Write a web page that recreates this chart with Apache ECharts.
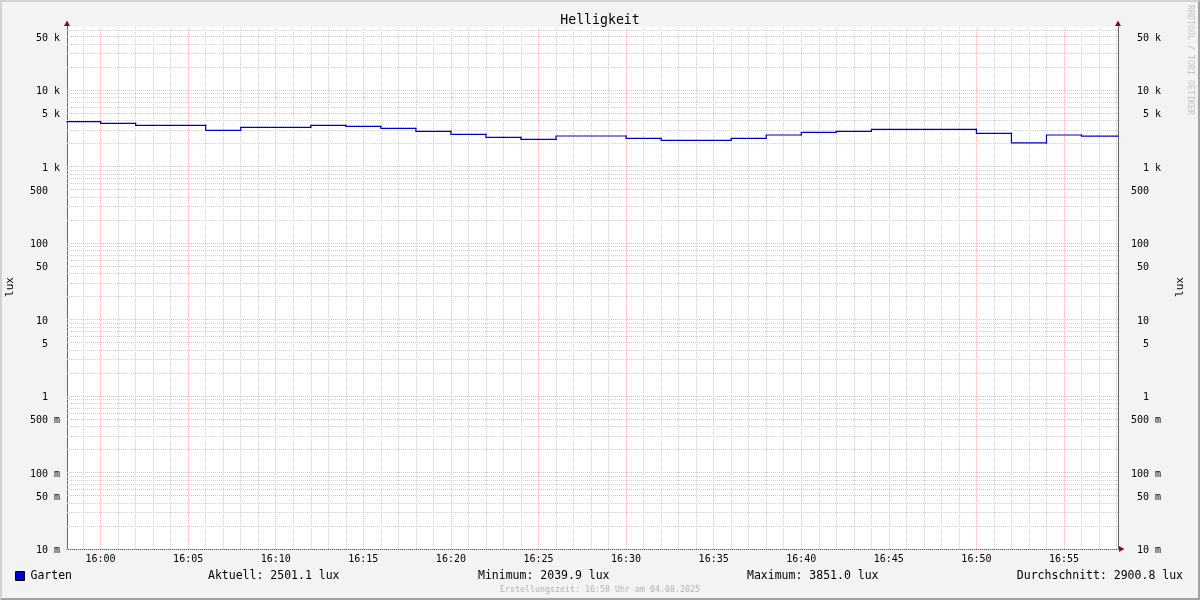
<!DOCTYPE html>
<html><head><meta charset="utf-8">
<script src="https://cdn.jsdelivr.net/npm/echarts@6/dist/echarts.min.js"></script>
<style>
html,body{margin:0;padding:0;background:#f3f3f3;}
#wrap{position:relative;width:1200px;height:600px;}
#chart{width:1200px;height:600px;}
#frame{position:absolute;left:0;top:0;width:1200px;height:600px;box-sizing:border-box;border-style:solid;border-width:2px;border-color:#d2d2d2 #a2a2a2 #a2a2a2 #d2d2d2;pointer-events:none;}
</style></head><body>
<div id="wrap"><div id="chart"></div><div id="frame"></div></div>
<script>
const chartTitle = 'Helligkeit';
const seriesName = 'Garten';
const unitLabel = 'lux';
const xStart = '15:58:05';
const xEnd = '16:58:05';
const stepTimes = ['15:58:05','16:00','16:02','16:06','16:08','16:12','16:14','16:16','16:18','16:20','16:22','16:24','16:26','16:30','16:32','16:36','16:38','16:40','16:42','16:44','16:50','16:52','16:54','16:56','16:58:05'];
const stepValues = [3851.0,3670,3456,2973,3254,3456,3354,3158,2885,2636,2408,2268,2504,2337,2200,2337,2581,2800,2885,3064,2716,2039.9,2581,2501.1,2501.1];
const yMin = 0.01;
const yMax = 66600;
const yTickValues = [0.01,0.05,0.1,0.5,1,5,10,50,100,500,1000,5000,10000,50000];
const yTickLabels = ['10 m','50 m','100 m','500 m','1','5','10','50','100','500','1 k','5 k','10 k','50 k'];
const xTickLabels = ['16:00','16:05','16:10','16:15','16:20','16:25','16:30','16:35','16:40','16:45','16:50','16:55'];
const statNames = ['Aktuell','Minimum','Maximum','Durchschnitt'];
const statValues = [2501.1, 2039.9, 3851.0, 2900.8];
const footerText = 'Erstellungszeit: 16:58 Uhr am 04.08.2025';
const watermarkText = 'RRDTOOL / TOBI OETIKER';

const MONO = 'DejaVu Sans Mono';
const MAJ = '#eeb6b6';
const MIN = '#cfcfcf';
const LINE = '#0000cc';

function ts(s){ const p = s.split(':').map(Number); return Date.UTC(2025,7,4,p[0],p[1],p[2]||0); }
function padLbl(l){ const p = l.split(' '); return p[0].padStart(3,' ') + ' ' + (p[1] || ' '); }

const tMin = ts(xStart), tMax = ts(xEnd);
const mlData = [];
for (let e = -2; e <= 4; e++) {
  [2,3,4,6,7,8,9].forEach(function(m){
    const v = parseFloat((m*Math.pow(10,e)).toPrecision(6));
    if (v < yMax) mlData.push({yAxis: v, lineStyle:{color:MIN}});
  });
}
for (let t = Math.ceil(tMin/60000)*60000; t < tMax; t += 60000) {
  if (new Date(t).getUTCMinutes() % 5 !== 0) mlData.push({xAxis: t, lineStyle:{color:MIN}});
}
yTickValues.forEach(function(v,i){
  mlData.push({yAxis: v, lineStyle:{color:MAJ}, label:{show:true, position:'start', distance:7, align:'right', verticalAlign:'top', lineHeight:3, formatter: padLbl(yTickLabels[i])}});
  mlData.push({yAxis: v, lineStyle:{color:'rgba(255,255,255,0)'}, label:{show:true, position:'end', distance:13, align:'left', verticalAlign:'top', lineHeight:3, formatter: padLbl(yTickLabels[i])}});
});
xTickLabels.forEach(function(l){
  mlData.push({xAxis: ts(l), lineStyle:{color:MAJ}, label:{show:true, position:'start', distance:5, align:'center', verticalAlign:'top', formatter: l}});
});

// one step segment per item: [start time, end time, previous value, value]
const segData = stepTimes.slice(0, -1).map(function(s, i){
  return [ts(s), ts(stepTimes[i+1]), i > 0 ? stepValues[i-1] : stepValues[i], stepValues[i]];
});

const chart = echarts.init(document.getElementById('chart'), null, {renderer:'canvas'});
const statX = [208, 478, 747, 1183];
const graphics = statNames.map(function(n,i){
  return {type:'text', x: statX[i], y: 576, style:{text: n + ': ' + statValues[i].toFixed(1) + ' ' + unitLabel, fontSize:11.5, fontFamily:MONO, fill:'#000', align: i===3 ? 'right' : 'left', verticalAlign:'middle'}};
});
graphics.push(
  {type:'text', x:600, y:589.5, style:{text: footerText, fontSize:8.3, fontFamily:MONO, fill:'#b4b4b4', align:'center', verticalAlign:'middle'}},
  {type:'text', x:1190.5, y:60, rotation:-Math.PI/2, style:{text: watermarkText, fontSize:8.3, fontFamily:MONO, fill:'#c4c4c4', align:'center', verticalAlign:'middle'}},
  {type:'text', x:10, y:287, rotation:Math.PI/2, style:{text: unitLabel, fontSize:11, fontFamily:MONO, fill:'#000', align:'center', verticalAlign:'middle'}},
  {type:'text', x:1180, y:287, rotation:Math.PI/2, style:{text: unitLabel, fontSize:11, fontFamily:MONO, fill:'#000', align:'center', verticalAlign:'middle'}},
  {type:'polygon', shape:{points:[[64,26],[70,26],[67,20.5]]}, style:{fill:'#8a1010'}},
  {type:'polygon', shape:{points:[[1115,26],[1121,26],[1118,20.5]]}, style:{fill:'#8a1010'}},
  {type:'polygon', shape:{points:[[1119,546],[1119,552],[1124.5,549]]}, style:{fill:'#8a1010'}},
  {type:'line', shape:{x1:67.5,y1:26,x2:67.5,y2:27}, style:{stroke:'#666', lineWidth:1}},
  {type:'line', shape:{x1:1118.5,y1:26,x2:1118.5,y2:27}, style:{stroke:'#666', lineWidth:1}}
);

const yAxisBase = {type:'log', logBase:10, min:yMin, max:yMax,
  axisLine:{show:true, onZero:false, lineStyle:{color:'#666', width:1}},
  axisTick:{show:false}, axisLabel:{show:false}, splitLine:{show:false}, minorTick:{show:false}, minorSplitLine:{show:false}};

chart.setOption({
  animation:false,
  backgroundColor:'#f3f3f3',
  textStyle:{fontFamily:MONO},
  title:{text: chartTitle, left:'center', top:14, padding:0, textStyle:{fontFamily:MONO, fontSize:13.2, fontWeight:'normal', color:'#000'}},
  legend:{data:[seriesName], left:15, top:570, padding:0, icon:'rect', itemWidth:9, itemHeight:9, itemGap:10,
    itemStyle:{color:LINE, borderColor:'#000', borderWidth:1},
    textStyle:{fontFamily:MONO, fontSize:11.5, color:'#000', padding:[0,0,0,1]}},
  grid:{left:67, right:82, top:27, bottom:51, show:true, backgroundColor:'#ffffff', borderWidth:0, containLabel:false},
  xAxis:{type:'time', min:tMin, max:tMax,
    axisLine:{show:true, onZero:false, lineStyle:{color:'#666', width:1}},
    axisTick:{show:false}, axisLabel:{show:false}, splitLine:{show:false}},
  yAxis:[Object.assign({position:'left'}, yAxisBase), Object.assign({position:'right'}, yAxisBase)],
  graphic: graphics,
  series:[{
    name: seriesName, type:'custom', coordinateSystem:'cartesian2d', z:3,
    encode:{x:[0,1], y:[2,3]},
    itemStyle:{color:LINE},
    renderItem: function(params, api){
      const p0 = api.coord([api.value(0), api.value(2)]);
      const p1 = api.coord([api.value(0), api.value(3)]);
      const p2 = api.coord([api.value(1), api.value(3)]);
      return {type:'polyline', shape:{points:[p0, p1, p2]}, style:{stroke:LINE, lineWidth:1.2, fill:null, lineCap:'square'}};
    },
    data: segData,
    markLine:{silent:true, symbol:'none', z:1, animation:false,
      label:{show:false, fontFamily:MONO, fontSize:10, color:'#000'},
      lineStyle:{type:[1,1], width:1},
      emphasis:{disabled:true},
      data: mlData}
  }]
});
</script>
</body></html>
